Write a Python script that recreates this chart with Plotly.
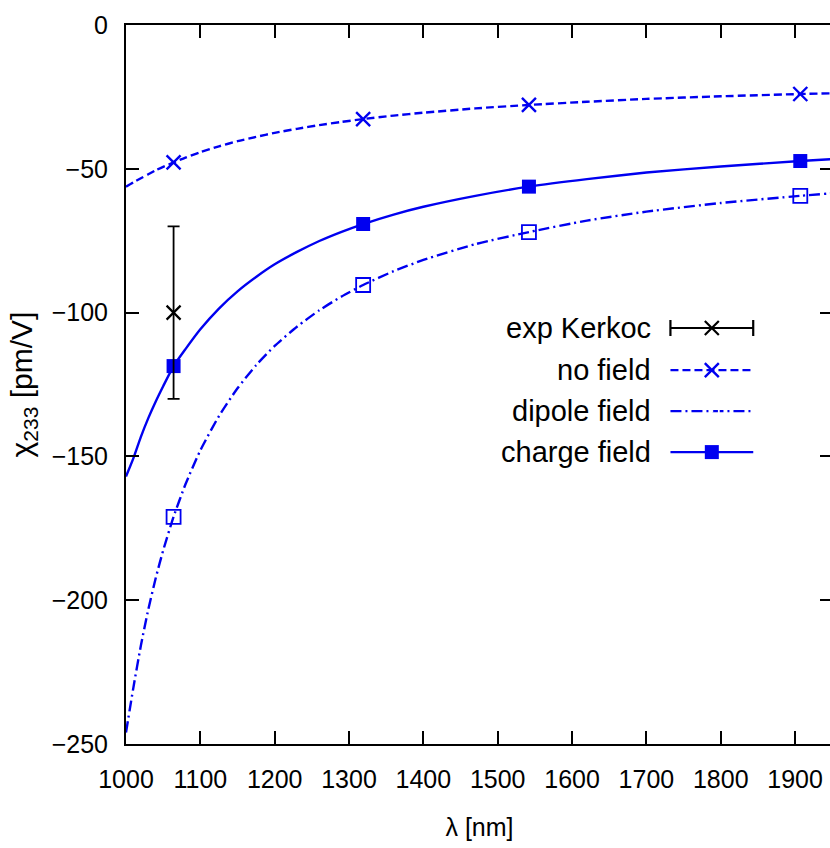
import plotly.graph_objects as go

# ---------------- data ----------------
lam_pts = [1064, 1319, 1542, 1907]
no_field_pts = [-47.8, -32.7, -27.8, -24.0]
dipole_pts = [-171.0, -90.4, -72.0, -59.4]
charge_pts = [-118.6, -69.2, -56.2, -47.3]

exp_lam = [1064]
exp_val = [-100.0]
exp_err = [30.0]

curve_lam = [1000, 1010, 1020, 1030, 1040, 1050, 1064, 1080, 1100, 1125, 1150, 1175, 1200,
             1230, 1260, 1290, 1319, 1360, 1400, 1470, 1542, 1620, 1700, 1800, 1907, 1960]
no_field_curve = [-56.2, -54.7, -53.3, -51.9, -50.5, -49.3, -47.8, -46.1, -44.2, -42.2, -40.4, -38.9, -37.5,
                  -36.1, -34.8, -33.7, -32.7, -31.5, -30.5, -29.0, -27.8, -26.7, -25.7, -24.8, -24.0, -23.7]
dipole_curve = [-246.0, -230.3, -215.8, -203.2, -192.3, -182.7, -171.0, -159.7, -147.9, -136.0, -126.3, -118.3, -111.6,
                -104.9, -99.2, -94.4, -90.4, -85.6, -81.7, -76.2, -72.0, -68.0, -64.9, -61.9, -59.4, -58.3]
charge_curve = [-157.0, -150.6, -143.2, -136.7, -130.9, -125.6, -118.6, -112.7, -105.8, -98.6, -92.6, -87.6, -83.2,
                -78.9, -75.1, -71.9, -69.2, -65.9, -63.2, -59.4, -56.2, -53.6, -51.3, -49.2, -47.3, -46.5]

x_ticks = [1000, 1100, 1200, 1300, 1400, 1500, 1600, 1700, 1800, 1900]
y_ticks = [-250, -200, -150, -100, -50, 0]

legend_names = ["exp Kerkoc", "no field", "dipole field", "charge field"]

BLUE = "#0000f0"
LW = 2.4
DASH_NF = "8px,4px"
DASH_DP = "11px,4px,2px,4px"
TICKFONT = dict(family="Liberation Sans, Arial, sans-serif", size=25, color="black")
TXTFONT = dict(family="Liberation Sans, Arial, sans-serif", size=29, color="black")

fig = go.Figure()

# curves
fig.add_trace(go.Scatter(x=curve_lam, y=no_field_curve, mode="lines", line=dict(color=BLUE, width=LW, dash=DASH_NF),
                         line_shape="spline", line_smoothing=0.6, showlegend=False, hoverinfo="skip"))
fig.add_trace(go.Scatter(x=curve_lam, y=dipole_curve, mode="lines", line=dict(color=BLUE, width=LW, dash=DASH_DP),
                         line_shape="spline", line_smoothing=0.6, showlegend=False, hoverinfo="skip"))
fig.add_trace(go.Scatter(x=curve_lam, y=charge_curve, mode="lines", line=dict(color=BLUE, width=LW),
                         line_shape="spline", line_smoothing=0.6, showlegend=False, hoverinfo="skip"))

# markers
fig.add_trace(go.Scatter(x=lam_pts, y=no_field_pts, mode="markers",
                         marker=dict(symbol="x-thin-open", size=14, color=BLUE, line=dict(color=BLUE, width=2.4)),
                         showlegend=False))
fig.add_trace(go.Scatter(x=lam_pts, y=dipole_pts, mode="markers",
                         marker=dict(symbol="square-open", size=14, color=BLUE, line=dict(color=BLUE, width=1.8)),
                         showlegend=False))
fig.add_trace(go.Scatter(x=lam_pts, y=charge_pts, mode="markers",
                         marker=dict(symbol="square", size=14, color=BLUE),
                         showlegend=False))
# experiment
fig.add_trace(go.Scatter(x=exp_lam, y=exp_val, mode="markers",
                         marker=dict(symbol="x-thin-open", size=14, color="black", line=dict(color="black", width=2.2)),
                         error_y=dict(type="data", array=exp_err, visible=True, color="black", thickness=1.8, width=6),
                         showlegend=False))

# ---------- manual legend (text on left, sample on right) on overlay axes ----------
# plot area spans 709 px wide (126..835 on the page), 719 px tall (25..744)
row_y = [0.5786, 0.520, 0.463, 0.406]
sx0, sx1, sxc = 0.7701, 0.8872, 0.8286
half = (sx1 - sx0) / 2
fig.add_trace(go.Scatter(x=[sxc], y=[row_y[0]], mode="markers", xaxis="x2", yaxis="y2",
                         marker=dict(symbol="x-thin-open", size=14, color="black", line=dict(color="black", width=2.2)),
                         error_x=dict(type="constant", value=half, color="black", thickness=2.2, width=8),
                         showlegend=False, hoverinfo="skip"))
fig.add_trace(go.Scatter(x=[sx0, sx1], y=[row_y[1]] * 2, mode="lines", xaxis="x2", yaxis="y2",
                         line=dict(color=BLUE, width=LW, dash=DASH_NF), showlegend=False, hoverinfo="skip"))
fig.add_trace(go.Scatter(x=[sxc], y=[row_y[1]], mode="markers", xaxis="x2", yaxis="y2",
                         marker=dict(symbol="x-thin-open", size=14, color=BLUE, line=dict(color=BLUE, width=2.4)),
                         showlegend=False, hoverinfo="skip"))
fig.add_trace(go.Scatter(x=[sx0, sx1], y=[row_y[2]] * 2, mode="lines", xaxis="x2", yaxis="y2",
                         line=dict(color=BLUE, width=LW, dash=DASH_DP), showlegend=False, hoverinfo="skip"))
fig.add_trace(go.Scatter(x=[sxc], y=[row_y[2]], mode="markers", xaxis="x2", yaxis="y2",
                         marker=dict(symbol="square-open-dot", size=14, color="white", line=dict(color=BLUE, width=1.8)),
                         showlegend=False, hoverinfo="skip"))
fig.add_trace(go.Scatter(x=[sx0, sx1], y=[row_y[3]] * 2, mode="lines", xaxis="x2", yaxis="y2",
                         line=dict(color=BLUE, width=LW), showlegend=False, hoverinfo="skip"))
fig.add_trace(go.Scatter(x=[sxc], y=[row_y[3]], mode="markers", xaxis="x2", yaxis="y2",
                         marker=dict(symbol="square", size=14, color=BLUE),
                         showlegend=False, hoverinfo="skip"))

annotations = []
for name, ry in zip(legend_names, row_y):
    annotations.append(dict(x=0.7461, y=ry, xref="x2", yref="y2", text=name, showarrow=False,
                            xanchor="right", yanchor="middle", font=TXTFONT))

# the plot frame runs just past the right edge of the window, as in the reference
fig.update_layout(
    width=835, height=848,
    margin=dict(l=126, r=0, t=25, b=104),
    paper_bgcolor="white", plot_bgcolor="white",
    showlegend=False,
    annotations=annotations,
    xaxis=dict(range=[1000, 1951], tickvals=x_ticks, ticktext=[str(v) for v in x_ticks],
               ticks="inside", ticklen=13, tickwidth=2, tickcolor="black",
               showline=True, linewidth=2, linecolor="black", mirror="ticks",
               showgrid=False, zeroline=False, tickfont=TICKFONT, ticklabelstandoff=12,
               title=dict(text="λ [nm]", font=dict(family="Liberation Sans, sans-serif", size=25, color="black"), standoff=26)),
    yaxis=dict(range=[-250, 0], tickvals=y_ticks,
               ticks="inside", ticklen=13, tickwidth=2, tickcolor="black",
               showline=True, linewidth=2, linecolor="black", mirror="ticks",
               showgrid=False, zeroline=False, tickfont=TICKFONT, ticklabelstandoff=11,
               title=dict(text="χ<sub>233</sub> [pm/V]", font=dict(family="Liberation Sans, sans-serif", size=30, color="black"), standoff=10)),
    xaxis2=dict(range=[0, 1], overlaying="x", visible=False, anchor="y2"),
    yaxis2=dict(range=[0, 1], overlaying="y", visible=False, anchor="x2"),
)

fig.write_html(
    "out.html",
    config={"displayModeBar": False},
    post_script="document.documentElement.style.overflow='hidden';"
                "document.body.style.margin='0';document.body.style.overflow='hidden';",
)
